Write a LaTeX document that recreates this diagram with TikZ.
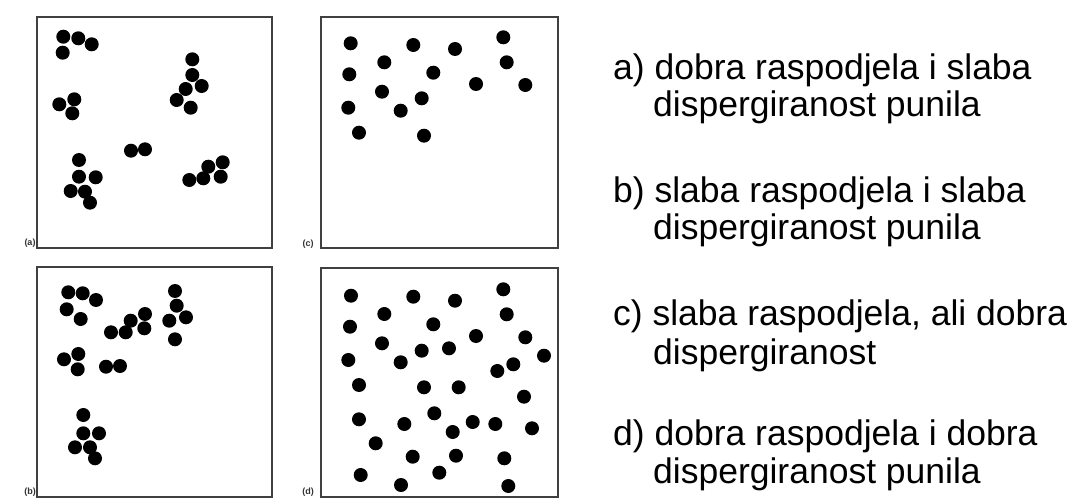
\documentclass[tikz,border=0pt]{standalone}
\usepackage{fontspec}
\setmainfont{Liberation Sans}
\begin{document}
\begin{tikzpicture}[x=1pt,y=-1pt,
  panel/.style={draw=black!75,line width=1.6pt},
  dot/.style={circle,fill=black,inner sep=0pt,minimum size=14pt},
  caption/.style={anchor=base west,inner sep=0pt,font=\fontsize{35.5}{38}\selectfont},
  tag/.style={inner sep=0pt,font=\fontsize{9}{10}\selectfont\bfseries,text=black!80}]
\useasboundingbox[fill=white] (0,0) rectangle (1076,500);
% panels
\draw[panel] (37,17) rectangle (272,248);
\draw[panel] (321,17) rectangle (558,248);
\draw[panel] (37,267) rectangle (272,497);
\draw[panel] (321,268) rectangle (558,497);
\node[tag] (ta) at (30,243) {(a)};
\node[tag] (tb) at (30,492) {(b)};
\node[tag] (tc) at (308,244) {(c)};
\node[tag] (td) at (308,492) {(d)};
% panel a
\foreach \x/\y in {63.3/36.7,78.3/38.3,91.7/44.3,62.7/52.7,
  192.3/59.3,192.3/75,201.7/86,185.7/89,176.7/100,190.7/107.7,
  59.3/104.3,74.3/99.3,72.3/113.3,
  131/150.7,145/149.3,
  79/160,79/176.7,95.7/177.3,70.7/191,85/191.7,90/202.7,
  189.3/180,203.3/178.3,208.3/166.7,222.7/162.3,220.7/176.7}
  \node[dot] at (\x,\y) {};
% panel c
\foreach \x/\y in {350.7/43.3,413.3/45,455/49,503.3/37.3,384.3/62.3,506.7/62.3,
  349.3/74.3,433.3/72.7,476/84,525.3/85,382/91.7,421.7/98.3,348.3/107.7,
  400.7/110.7,359/132.7,424/135.7}
  \node[dot] at (\x,\y) {};
% panel b
\foreach \x/\y in {68.3/292.3,82.7/293.3,96/300,66.7/309.3,80.7/319,
  111/332.3,125.7/332.3,130.7/320.7,145/314,144.3/328.3,
  175/291,176.7/305.7,186/317.3,169.3/320.7,175/339.3,
  64/359.3,78.3/354,77.7/369.3,
  106/366.7,120/366,
  83.3/415,83.3/433.3,99/433.3,75/447.3,90/447.3,95/458.3}
  \node[dot] at (\x,\y) {};
% panel d
\foreach \x/\y in {351/295.7,413.3/296.7,455/300.7,503.3/289.3,384.3/314,506.7/314.3,
  350/326.7,433.3/324.3,476/336,525.3/337.3,382/343.3,421.7/350.7,449/348.3,
  544/355.7,348.3/360,400.7/362.3,513.3/364.3,497.3/371,359/385,424/387.3,
  458.7/387.3,524/396.7,434.3/413.3,359/419.3,404.3/424,472.7/422,495.3/424,
  452.7/432,532/428.3,375.7/443.3,412.7/456.7,456/455.7,504.3/458.3,
  360.7/475,439.3/472.7,401/485,508.3/486}
  \node[dot] at (\x,\y) {};
% captions
\node[caption] (ca1) at (613,80) {a) dobra raspodjela i slaba};
\node[caption] (ca2) at (653,117) {dispergiranost punila};
\node[caption] (cb1) at (613,202) {b) slaba raspodjela i slaba};
\node[caption] (cb2) at (653,239) {dispergiranost punila};
\node[caption] (cc1) at (613,325) {c) slaba raspodjela, ali dobra};
\node[caption] (cc2) at (653,364) {dispergiranost};
\node[caption] (cd1) at (613,445) {d) dobra raspodjela i dobra};
\node[caption] (cd2) at (653,483) {dispergiranost punila};
\end{tikzpicture}
\end{document}
